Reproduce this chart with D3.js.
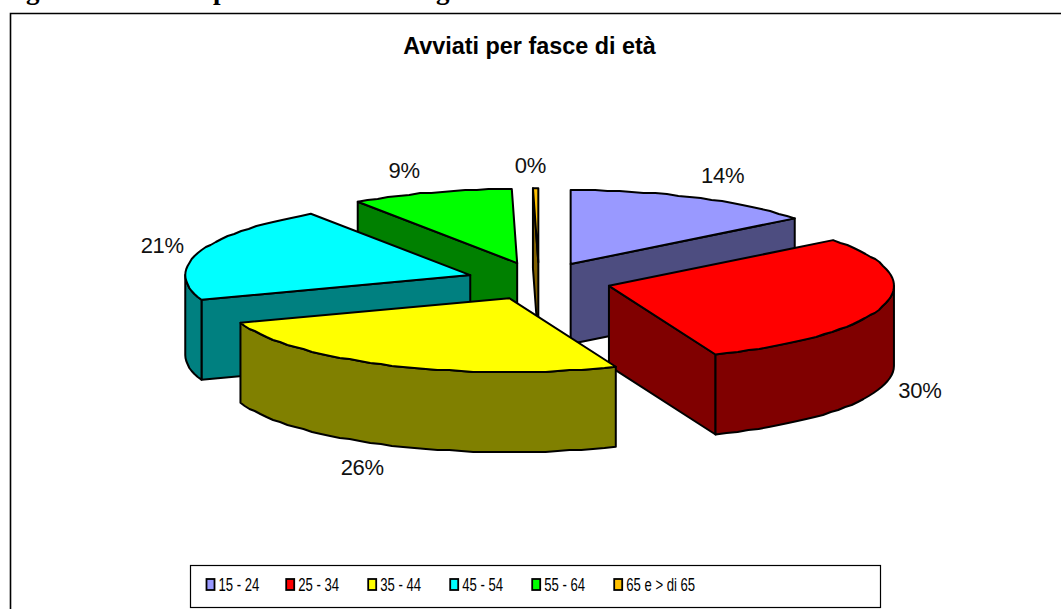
<!DOCTYPE html>
<html><head><meta charset="utf-8">
<script src="https://cdn.jsdelivr.net/npm/d3@7"></script>
<style>html,body{margin:0;padding:0;background:#fff;overflow:hidden}svg{display:block}text{font-family:"Liberation Sans",Arial,sans-serif}</style>
</head><body>
<svg id="c" width="1061" height="609"></svg>
<script>
const categories = ["15 - 24","25 - 34","35 - 44","45 - 54","55 - 64","65 e > di 65"];
const shares = [14.4,29.5,25.7,20.95,9.15,0.3];
const topColors = ["#9999FF","#FF0000","#FFFF00","#00FFFF","#00FF00","#FFC000"];
const sideColors = ["#4D4D80","#800000","#808000","#008080","#008000","#806000"];
const paintOrder = [0,5,4,3,1,2];
const title = "Avviati per fasce di età";
const labelShift = [[152,-81],[311,112],[-147,177],[-308,-22],[-113,-85],[-8,-89]];
const legendSteps = [206,79.7,82,82,82,82];

const cx=539, cy=281, rx=285, ry=74, depth=80, explode=0.254;
const svg=d3.select("#c");

// cropped heading above the chart: only the descenders are on the page
svg.append("g").selectAll("text")
  .data([["g",26],["p",213],["g",436]]).join("text")
  .attr("x",d=>d[1]).attr("y",-1).attr("font-size",27).attr("font-weight","bold")
  .style("font-family","'Liberation Serif'").text(d=>d[0]);

// frame: left and top only
svg.append("path").attr("d","M10.5 609V13.5H1061").attr("fill","none").attr("stroke","#000").attr("stroke-width",1.6);

svg.append("text").attr("x",529.5).attr("y",54).attr("text-anchor","middle")
  .attr("font-size",23.4).attr("font-weight","bold").text(title);

const arcs=d3.pie().sort(null).value(d=>d).startAngle(0).endAngle(2*Math.PI)(shares);
const sx=d3.scaleLinear().domain([-1,1]).range([-rx,rx]);
const sy=d3.scaleLinear().domain([-1,1]).range([-ry,ry]);
const line=d3.line();
function pt(a,o,dz=0){return [o[0]+sx(Math.sin(a)),o[1]-sy(Math.cos(a))+dz];}
function arcPts(a,b,o,dz=0){
  const n=Math.max(1,Math.ceil((b-a)/(2.5*Math.PI/180))),res=[];
  for(let i=0;i<=n;i++){const p=pt(a+(b-a)*i/n,o,dz);res.push(i==0||i==n?p:[p[0],Math.round(p[1])]);}
  return res;
}
const g=svg.append("g").attr("stroke","#000").attr("stroke-width",2).attr("stroke-linejoin","round");
const origins=arcs.map(d=>{const m=(d.startAngle+d.endAngle)/2;return [cx+sx(Math.sin(m)*explode),cy-sy(Math.cos(m)*explode)];});
const PI=Math.PI;
function face(o,a){const p=pt(a,o);return [o,p,[p[0],p[1]+depth],[o[0],o[1]+depth]];}
paintOrder.forEach(i=>{
  const d=arcs[i],o=origins[i],a=d.startAngle,b=d.endAngle,side=sideColors[i];
  if(a>=PI && a<2*PI) g.append("path").attr("d",line(face(o,a))+"Z").attr("fill",side);
  if(b>0 && b<=PI) g.append("path").attr("d",line(face(o,b))+"Z").attr("fill",side);
  const wa=Math.max(a,PI/2),wb=Math.min(b,3*PI/2);
  if(wb>wa){
    const up=arcPts(wa,wb,o),down=arcPts(wa,wb,o,depth).reverse();
    g.append("path").attr("d",line(up.concat(down))+"Z").attr("fill",side);
  }
  g.append("path").attr("d",line([o].concat(arcPts(a,b,o)))+"Z").attr("fill",topColors[i]);
});

// percentage labels
svg.append("g").selectAll("text").data(arcs).join("text")
  .attr("x",(d,i)=>origins[i][0]+labelShift[i][0]).attr("y",(d,i)=>origins[i][1]+labelShift[i][1])
  .attr("text-anchor","middle").attr("font-size",22).attr("letter-spacing",-0.3).attr("fill","#111")
  .text(d=>Math.round(d.value)+"%");

// legend
const lg=svg.append("g");
lg.append("rect").attr("x",190.5).attr("y",565.5).attr("width",690).attr("height",42).attr("fill","#fff").attr("stroke","#000").attr("stroke-width",1.2);
const legendX=Array.from(d3.cumsum(legendSteps));
categories.forEach((c,i)=>{
  lg.append("rect").attr("x",legendX[i]+0.5).attr("y",579).attr("width",8).attr("height",11)
    .attr("fill",topColors[i]).attr("stroke","#000").attr("stroke-width",1.8);
  const t=lg.append("text").attr("x",legendX[i]+12.5).attr("y",591).attr("font-size",17.5).text(c);
  const w=t.node().getComputedTextLength();
  t.attr("textLength",w*0.75).attr("lengthAdjust","spacingAndGlyphs");
});
</script>
</body></html>
